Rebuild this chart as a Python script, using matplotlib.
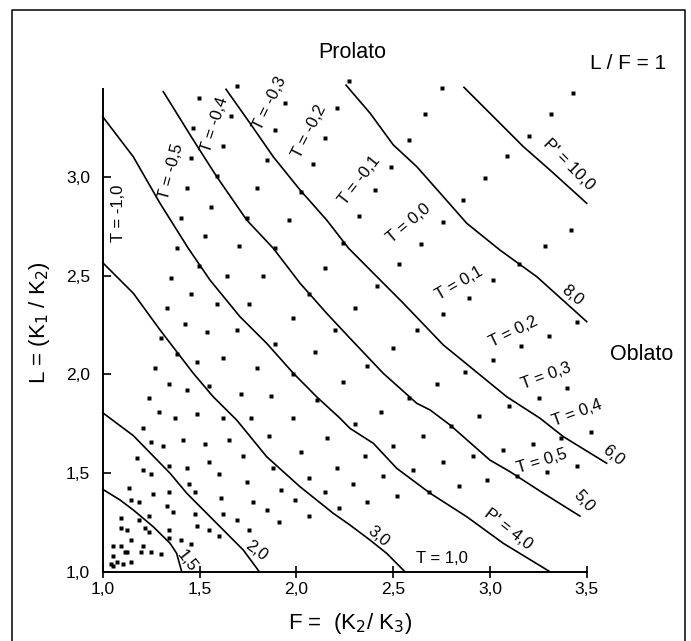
import numpy as np
import matplotlib
matplotlib.use("Agg")
import matplotlib.pyplot as plt
from matplotlib.lines import Line2D

plt.rcParams['font.family'] = ['Liberation Sans', 'DejaVu Sans']

# P' contours as (F, L) points
p15_f = [1.0, 1.089, 1.158, 1.261, 1.348, 1.382, 1.408]
p15_l = [1.418, 1.364, 1.313, 1.228, 1.144, 1.093, 1.0]
p20_f = [1.0, 1.158, 1.348, 1.434, 1.589, 1.726, 1.809]
p20_l = [1.806, 1.69, 1.499, 1.398, 1.245, 1.11, 1.0]
p30_f = [1.0, 1.158, 1.296, 1.468, 1.571, 1.692, 1.847, 2.019, 2.191, 2.277, 2.38, 2.467, 2.561]
p30_l = [2.567, 2.412, 2.226, 2.006, 1.887, 1.769, 1.583, 1.431, 1.296, 1.237, 1.161, 1.093, 1.0]
p40_f = [1.0, 1.158, 1.296, 1.442, 1.554, 1.709, 1.847, 1.985, 2.105, 2.226, 2.277, 2.398, 2.519,
         2.691, 2.88, 3.069, 3.31]
p40_l = [3.307, 3.104, 2.868, 2.64, 2.479, 2.293, 2.158, 2.006, 1.887, 1.778, 1.727, 1.651, 1.524,
         1.398, 1.279, 1.144, 1.0]
p50_f = [1.313, 1.468, 1.589, 1.744, 1.881, 2.019, 2.157, 2.277, 2.449, 2.622, 2.691, 2.794, 3.0,
         3.104, 3.276, 3.465]
p50_l = [3.434, 3.189, 3.003, 2.783, 2.64, 2.463, 2.31, 2.184, 2.006, 1.854, 1.82, 1.744, 1.566,
         1.507, 1.398, 1.282]
p60_f = [1.637, 1.761, 1.881, 2.019, 2.157, 2.27, 2.553, 2.759, 3.087, 3.259, 3.379, 3.603]
p60_l = [3.446, 3.274, 3.104, 2.936, 2.783, 2.64, 2.361, 2.15, 1.887, 1.778, 1.685, 1.55]
p80_f = [2.257, 2.381, 2.501, 2.622, 2.759, 2.88, 3.053, 3.242, 3.5]
p80_l = [3.467, 3.325, 3.164, 3.054, 2.902, 2.767, 2.63, 2.496, 2.268]
p100_f = [2.866, 3.018, 3.173, 3.31, 3.5]
p100_l = [3.456, 3.307, 3.155, 3.037, 2.868]

# sample points (F, L)
dots_top_left = [(1.695, 3.463), (1.499, 3.401), (1.943, 3.378), (2.212, 3.35), (1.664, 3.311),
                 (1.468, 3.248), (1.892, 3.24), (2.15, 3.198), (1.623, 3.159), (1.458, 3.096),
                 (1.85, 3.088), (2.088, 3.067), (1.592, 3.007), (1.437, 2.944), (1.799, 2.944),
                 (2.026, 2.924), (1.561, 2.851), (1.406, 2.792), (1.747, 2.792), (1.964, 2.783),
                 (1.53, 2.702), (1.706, 2.652), (1.385, 2.64), (1.888, 2.64), (2.243, 2.668),
                 (2.274, 3.49)]
dots_top_right = [(2.751, 3.451), (3.431, 3.429), (2.666, 3.319), (3.317, 3.319), (2.584, 3.188),
                  (3.204, 3.208), (3.09, 3.106), (2.491, 3.054), (2.976, 2.995), (2.408, 2.936),
                  (2.863, 2.883), (2.325, 2.804), (2.759, 2.772), (3.42, 2.731), (2.646, 2.66),
                  (3.286, 2.652)]
dots_mid_left = [(1.499, 2.55), (1.354, 2.488), (1.644, 2.498), (1.83, 2.498), (2.15, 2.539),
                 (1.458, 2.407), (1.592, 2.356), (1.757, 2.356), (2.067, 2.407), (1.334, 2.336),
                 (1.985, 2.285), (1.427, 2.255), (1.54, 2.214), (1.695, 2.224), (2.201, 2.224),
                 (1.303, 2.184), (1.892, 2.153), (1.385, 2.102), (1.489, 2.062), (1.623, 2.082),
                 (2.098, 2.113), (1.272, 2.031), (1.799, 2.031), (1.985, 2.001), (1.344, 1.95),
                 (1.437, 1.92), (1.551, 1.94), (2.243, 1.96), (1.241, 1.879), (1.716, 1.9),
                 (1.871, 1.889), (2.108, 1.869), (1.292, 1.808), (1.375, 1.778), (1.489, 1.798),
                 (1.623, 1.778), (1.768, 1.778), (1.985, 1.778)]
dots_mid_right = [(2.532, 2.559), (3.152, 2.559), (2.418, 2.447), (3.018, 2.478), (2.894, 2.386),
                  (2.305, 2.336), (2.759, 2.305), (2.625, 2.224), (3.451, 2.265), (3.307, 2.194),
                  (2.501, 2.133), (3.162, 2.143), (3.018, 2.072), (2.367, 2.042), (2.873, 2.011),
                  (2.728, 1.95), (3.4, 1.93), (2.584, 1.879), (3.255, 1.879), (3.1, 1.839),
                  (2.439, 1.808), (2.945, 1.788)]
dots_low_left = [(1.21, 1.727), (1.251, 1.656), (1.313, 1.636), (1.416, 1.666), (1.53, 1.646),
                 (1.654, 1.666), (1.861, 1.687), (2.16, 1.676), (1.179, 1.575), (1.726, 1.585),
                 (2.026, 1.605), (1.551, 1.555), (1.344, 1.534), (1.437, 1.524), (1.21, 1.514),
                 (1.251, 1.494), (1.602, 1.494), (1.881, 1.524), (2.212, 1.524), (2.067, 1.474),
                 (1.447, 1.443), (1.747, 1.453), (1.137, 1.423), (1.344, 1.403), (1.261, 1.392),
                 (1.478, 1.403), (1.923, 1.413), (2.15, 1.403), (1.148, 1.362), (1.189, 1.352),
                 (1.613, 1.372), (1.778, 1.352), (1.995, 1.362), (1.334, 1.332), (1.365, 1.301),
                 (1.478, 1.291), (1.623, 1.291), (1.85, 1.311), (2.222, 1.322), (1.241, 1.281),
                 (2.067, 1.281), (1.096, 1.271), (1.189, 1.261), (1.695, 1.261), (1.912, 1.251),
                 (1.096, 1.22), (1.127, 1.21), (1.22, 1.22), (1.344, 1.21), (1.489, 1.23),
                 (1.551, 1.21), (1.757, 1.21), (1.241, 1.2), (1.148, 1.159), (1.344, 1.169),
                 (1.406, 1.159), (1.602, 1.18), (1.458, 1.139), (1.055, 1.129), (1.096, 1.129),
                 (1.21, 1.129), (1.117, 1.098), (1.127, 1.098), (1.199, 1.098), (1.251, 1.098),
                 (1.303, 1.088), (1.055, 1.078), (1.148, 1.048), (1.075, 1.048), (1.106, 1.038),
                 (1.044, 1.038), (1.055, 1.027)]
dots_low_right = [(2.305, 1.747), (2.801, 1.737), (3.524, 1.707), (2.656, 1.687), (3.369, 1.676),
                  (3.224, 1.646), (2.501, 1.636), (3.069, 1.616), (2.356, 1.585), (2.914, 1.585),
                  (2.759, 1.555), (3.451, 1.534), (2.604, 1.514), (3.296, 1.504), (2.449, 1.484),
                  (3.142, 1.484), (2.987, 1.463), (2.294, 1.443), (2.842, 1.433), (2.687, 1.403),
                  (2.522, 1.382), (2.367, 1.352)]

# T labels: text, F, L, rotation
t_text = ["T = -1,0", "T = -0,5", "T = -0,4", "T = -0,3", "T = -0,2", "T = -0,1", "T = 0,0",
          "T = 0,1", "T = 0,2", "T = 0,3", "T = 0,4", "T = 0,5", "T = 1,0"]
t_f = [1.081, 1.356, 1.581, 1.864, 2.067, 2.328, 2.579, 2.84, 3.121, 3.293, 3.452, 3.268, 2.751]
t_l = [2.817, 3.028, 3.265, 3.375, 3.231, 2.984, 2.767, 2.462, 2.217, 1.992, 1.806, 1.561, 1.068]
t_rot = [90, 75, 72, 64, 63, 52, 40, 30, 26, 20, 20, 17, 0]

p_text = ["1,5", "2,0", "3,0", "P' = 4,0", "5,0", "6,0", "8,0", "P' = 10,0"]
p_f = [1.437, 1.795, 2.424, 3.095, 3.486, 3.638, 3.426, 3.405]
p_l = [1.052, 1.107, 1.177, 1.215, 1.36, 1.592, 2.403, 3.062]
p_rot = [-52, -37, -40, -38, -48, -40, -40, -45]

xticks = [1.0, 1.5, 2.0, 2.5, 3.0, 3.5]
xtick_labels = ["1,0", "1,5", "2,0", "2,5", "3,0", "3,5"]
yticks = [1.0, 1.5, 2.0, 2.5, 3.0]
ytick_labels = ["1,0", "1,5", "2,0", "2,5", "3,0"]

W, H = 691, 641
fig = plt.figure(figsize=(W / 100, H / 100), dpi=100)
ax = fig.add_axes([102.7 / W, 1 - 571.7 / H, 484.0 / W, 482.4 / H])
ax.set_xlim(1.0, 3.5)
ax.set_ylim(1.0, 3.446)

for f, l in [(p15_f, p15_l), (p20_f, p20_l), (p30_f, p30_l), (p40_f, p40_l),
             (p50_f, p50_l), (p60_f, p60_l), (p80_f, p80_l), (p100_f, p100_l)]:
    ax.plot(f, l, color='black', lw=1.2, clip_on=False)

dots = np.array(dots_top_left + dots_top_right + dots_mid_left + dots_mid_right
                + dots_low_left + dots_low_right)
ax.plot(dots[:, 0], dots[:, 1], 's', ms=2.6, color='black', mec='none', clip_on=False)

for s, f, l, r in zip(t_text, t_f, t_l, t_rot):
    ax.text(f, l, s, rotation=r, rotation_mode='anchor', ha='center', va='center',
            fontsize=12, clip_on=False)
for s, f, l, r in zip(p_text, p_f, p_l, p_rot):
    ax.text(f, l, s, rotation=r, rotation_mode='anchor', ha='center', va='center',
            fontsize=12, clip_on=False)

for side in ['top', 'right']:
    ax.spines[side].set_visible(False)
for side in ['left', 'bottom']:
    ax.spines[side].set_linewidth(1.4)

ax.set_xticks(xticks)
ax.set_xticklabels(xtick_labels, fontsize=12.5)
ax.set_yticks(yticks)
ax.set_yticklabels(ytick_labels, fontsize=12.5)
ax.tick_params(axis='x', direction='inout', length=9, width=1.2, pad=3)
ax.tick_params(axis='y', direction='in', length=6, width=1.2, pad=9)

fig.text(350 / W, 1 - 623 / H, "F =  (K$_2$/ K$_3$)", fontsize=16, ha='center', va='center')
fig.text(39 / W, 1 - 323 / H, "L = (K$_1$ / K$_2$)", fontsize=16, ha='center', va='center',
         rotation=90)
fig.text(352.6 / W, 1 - 53 / H, "Prolato", fontsize=15.5, ha='center', va='center')
fig.text(628 / W, 1 - 63.5 / H, "L / F = 1", fontsize=15, ha='center', va='center')
fig.text(641.4 / W, 1 - 354.7 / H, "Oblato", fontsize=15.5, ha='center', va='center')

# outer frame, open at the bottom
x0, x1, yt = 12.3 / W, 685.4 / W, 1 - 10.3 / H
fig.add_artist(Line2D([x0, x0, x1, x1], [-0.01, yt, yt, -0.01], transform=fig.transFigure,
                      color='black', lw=1.1))

fig.savefig("out.png", dpi=100)
